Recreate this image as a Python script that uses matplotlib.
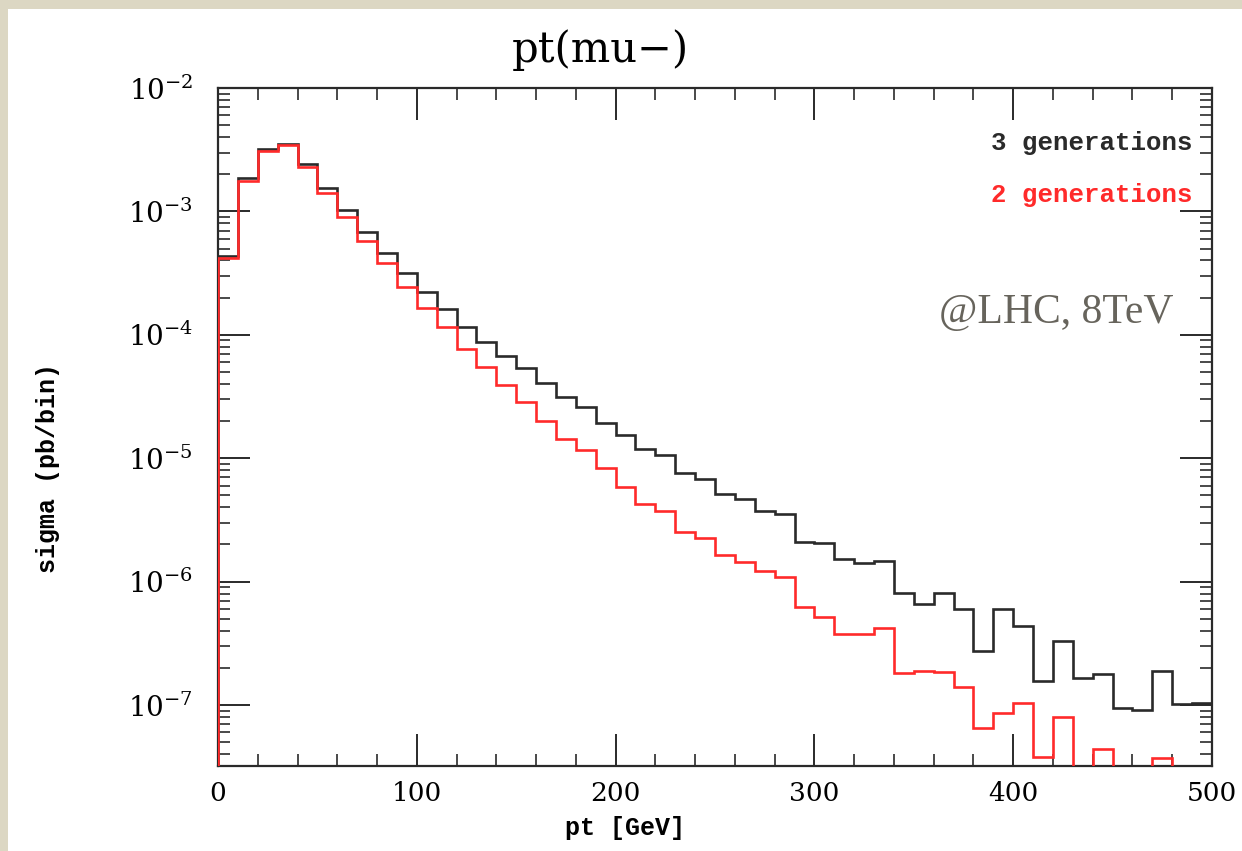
import numpy as np
import matplotlib
matplotlib.use('Agg')
import matplotlib.pyplot as plt
from matplotlib.patches import Rectangle
from matplotlib.ticker import MultipleLocator, LogLocator, NullFormatter

plt.rcParams['font.family'] = ['DejaVu Serif']
plt.rcParams['mathtext.fontset'] = 'dejavuserif'

# pt bins, 10 GeV wide
edges = np.arange(0, 510, 10)

# sigma (pb/bin); 1e-8 = below the frame
sigma_3gen = [4.38e-4, 1.85e-3, 3.19e-3, 3.52e-3, 2.41e-3, 1.54e-3, 1.03e-3, 6.85e-4, 4.63e-4, 3.15e-4,
              2.22e-4, 1.62e-4, 1.15e-4, 8.7e-5, 6.73e-5, 5.35e-5, 4.05e-5, 3.15e-5, 2.58e-5, 1.92e-5,
              1.54e-5, 1.18e-5, 1.06e-5, 7.63e-6, 6.78e-6, 5.13e-6, 4.67e-6, 3.73e-6, 3.51e-6, 2.1e-6,
              2.04e-6, 1.52e-6, 1.41e-6, 1.48e-6, 8.13e-7, 6.58e-7, 8.04e-7, 6.0e-7, 2.75e-7, 5.96e-7,
              4.39e-7, 1.56e-7, 3.3e-7, 1.66e-7, 1.78e-7, 9.4e-8, 9.1e-8, 1.9e-7, 1.02e-7, 1.03e-7]
sigma_2gen = [4.17e-4, 1.77e-3, 3.07e-3, 3.43e-3, 2.30e-3, 1.40e-3, 9.06e-4, 5.79e-4, 3.84e-4, 2.45e-4,
              1.64e-4, 1.15e-4, 7.64e-5, 5.51e-5, 3.92e-5, 2.87e-5, 2.01e-5, 1.43e-5, 1.16e-5, 8.28e-6,
              5.87e-6, 4.25e-6, 3.76e-6, 2.54e-6, 2.24e-6, 1.64e-6, 1.43e-6, 1.22e-6, 1.08e-6, 6.19e-7,
              5.2e-7, 3.74e-7, 3.74e-7, 4.23e-7, 1.81e-7, 1.88e-7, 1.86e-7, 1.39e-7, 6.47e-8, 8.57e-8,
              1.04e-7, 3.81e-8, 8.04e-8, 1e-8, 4.4e-8, 1e-8, 1e-8, 3.7e-8, 1e-8, 1e-8]

W, H = 1242, 851
fig = plt.figure(figsize=(W / 100, H / 100), dpi=100, facecolor='#dcd7c3')
# white slide panel over the beige border
fig.add_artist(Rectangle((8 / W, 0), 1, 1 - 9 / H, transform=fig.transFigure,
                         facecolor='white', edgecolor='none', zorder=-1))

ax = fig.add_axes([218 / W, 1 - 766 / H, (1212 - 218) / W, (766 - 88) / H])
ax.set_facecolor('white')

ax.stairs(sigma_3gen, edges, baseline=1e-9, color='#2a2a2a', lw=1.9, zorder=3)
ax.stairs(sigma_2gen, edges, baseline=1e-9, color='#ff2a2a', lw=1.9, zorder=3)

ax.set_yscale('log')
ax.set_xlim(0, 500)
ax.set_ylim(3.2e-8, 1e-2)

ax.xaxis.set_major_locator(MultipleLocator(100))
ax.xaxis.set_minor_locator(MultipleLocator(20))
ax.yaxis.set_major_locator(LogLocator(base=10, numticks=20))
ax.yaxis.set_minor_locator(LogLocator(base=10, subs=np.arange(2, 10), numticks=20))
ax.yaxis.set_minor_formatter(NullFormatter())

for s in ax.spines.values():
    s.set_linewidth(1.6)
    s.set_color('#2a2a2a')
ax.tick_params(which='both', direction='in', top=True, right=True, color='#2a2a2a')
ax.tick_params(which='major', length=23, width=1.4)
ax.tick_params(which='minor', length=8.5, width=1.2)
ax.tick_params(axis='x', which='major', labelsize=19, pad=11)
ax.tick_params(axis='y', which='major', labelsize=20, pad=18)

ax.set_xlabel('pt [GeV]', family='Liberation Mono', weight='bold', fontsize=18, va='top')
ax.xaxis.set_label_coords((625 - 218) / 994, (766 - 816) / 678)
ax.set_ylabel('sigma (pb/bin)', family='Liberation Mono', weight='bold', fontsize=18)
ax.yaxis.label.set_va('center')
ax.yaxis.set_label_coords((48 - 218) / 994, (766 - 468) / 678)

fig.text(600 / W, 1 - 50 / H, 'pt(mu\u2212)', ha='center', va='center', fontsize=30)

ax.text(0.9808, (766 - 143) / 678, '3 generations', transform=ax.transAxes, ha='right', va='center',
        family='Liberation Mono', weight='bold', fontsize=18.5, color='#2a2a2a')
ax.text(0.9808, (766 - 195) / 678, '2 generations', transform=ax.transAxes, ha='right', va='center',
        family='Liberation Mono', weight='bold', fontsize=18.5, color='#ff2a2a')
ax.text(0.9608, (766 - 313) / 678, '@LHC, 8TeV', transform=ax.transAxes, ha='right', va='center',
        family='Liberation Serif', fontsize=30, color='#67645c')

fig.savefig('out.png', dpi=100, facecolor=fig.get_facecolor())
